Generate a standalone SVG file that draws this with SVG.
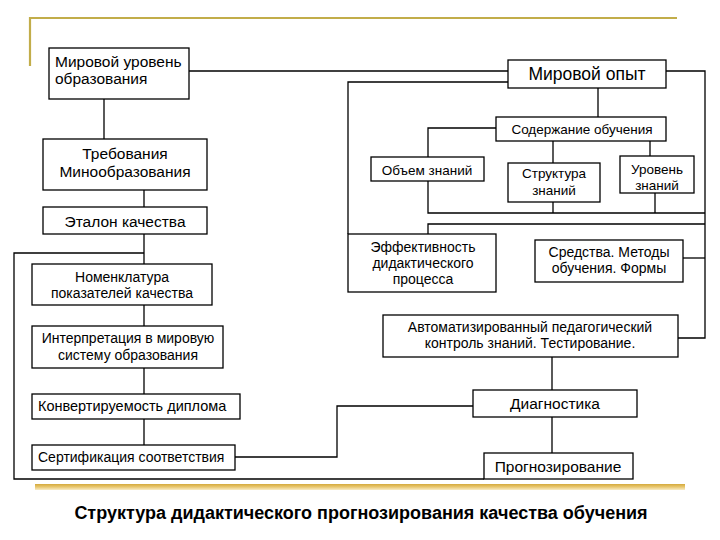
<svg xmlns="http://www.w3.org/2000/svg" width="720" height="540" viewBox="0 0 720 540">
<style>
.b{fill:#fff;stroke:#000;stroke-width:1.3}
.c{fill:none;stroke:#000;stroke-width:1.3}
text{font-family:"Liberation Sans",Arial,sans-serif;fill:#000}
.m{text-anchor:middle}
.s13{font-size:13.5px}
.s14{font-size:14px}
.s15{font-size:15.5px}
</style>
<defs>
<linearGradient id="gb" x1="0" y1="0" x2="0" y2="1">
<stop offset="0" stop-color="#d4a93c"/>
<stop offset="0.5" stop-color="#e9c870"/>
<stop offset="1" stop-color="#f8ecc8"/>
</linearGradient>
</defs>
<rect width="720" height="540" fill="#fff"/>
<g id="decor">
<path d="M30,66 V18 H677" fill="none" stroke="#c2ad4a" stroke-width="2.2"/>
<rect x="35" y="484" width="650" height="6" fill="url(#gb)"/>
</g>
<g id="connectors" class="c">
<path d="M189,71 H508"/>
<path d="M508,82 H348 V234"/>
<path d="M666,71 H705 V338 H678"/>
<path d="M683,258 H705"/>
<path d="M428,234 V224 H705"/>
<path d="M428,181 V213 H705"/>
<path d="M553,202 V213"/>
<path d="M655,193 V213"/>
<path d="M598,88 V117"/>
<path d="M496,128 H428 V157"/>
<path d="M553,141 V163"/>
<path d="M650,141 V156"/>
<path d="M104,99 V139"/>
<path d="M144,190 V207"/>
<path d="M144,234 V264"/>
<path d="M144,253 H14 V479 H484"/>
<path d="M144,305 V326"/>
<path d="M144,368 V394"/>
<path d="M144,419 V445"/>
<path d="M235,457 H337 V406 H473"/>
<path d="M552,357 V390"/>
<path d="M552,417 V453"/>
</g>
<g id="n1"><rect class="b" x="49" y="48" width="140" height="51"/>
<text class="s15" x="55" y="67">Мировой уровень</text><text class="s15" x="55" y="84">образования</text></g>
<g id="n2"><rect class="b" x="508" y="60" width="158" height="28"/>
<text class="m" style="font-size:17.5px" x="587" y="80">Мировой опыт</text></g>
<g id="n3"><rect class="b" x="496" y="117" width="170" height="24"/>
<text class="m s13" x="582" y="134">Содержание обучения</text></g>
<g id="n4"><rect class="b" x="43" y="139" width="164" height="51"/>
<text class="m s15" x="125" y="159">Требования</text><text class="m s15" x="125" y="177">Минообразования</text></g>
<g id="n5"><rect class="b" x="371" y="157" width="113" height="24"/>
<text class="m s13" x="427" y="175">Объем знаний</text></g>
<g id="n6"><rect class="b" x="508" y="163" width="92" height="39"/>
<text class="m s13" x="554" y="178">Структура</text><text class="m s13" x="554" y="195">знаний</text></g>
<g id="n7"><rect class="b" x="620" y="156" width="74" height="37"/>
<text class="m s13" x="657" y="174">Уровень</text><text class="m s13" x="657" y="190">знаний</text></g>
<g id="n8"><rect class="b" x="43" y="207" width="164" height="27"/>
<text class="m s15" x="125" y="227">Эталон качества</text></g>
<g id="n9"><rect class="b" x="32" y="264" width="180" height="41"/>
<text class="m s14" x="122" y="282">Номенклатура</text><text class="m s14" x="122" y="298">показателей качества</text></g>
<g id="n10"><rect class="b" x="32" y="326" width="191" height="42"/>
<text class="m s14" x="128" y="343">Интерпретация в мировую</text><text class="m s14" x="128" y="360">систему образования</text></g>
<g id="n11"><rect class="b" x="32" y="394" width="208" height="25"/>
<text style="font-size:14.5px" x="38" y="411">Конвертируемость диплома</text></g>
<g id="n12"><rect class="b" x="32" y="445" width="203" height="25"/>
<text class="s14" x="38" y="462">Сертификация соответствия</text></g>
<g id="n13"><rect class="b" x="348" y="234" width="148" height="58"/>
<text class="m s14" x="423" y="252">Эффективность</text><text class="m s14" x="423" y="268">дидактического</text><text class="m s14" x="423" y="284">процесса</text></g>
<g id="n14"><rect class="b" x="535" y="240" width="148" height="42"/>
<text class="m s14" x="609" y="257">Средства. Методы</text><text class="m s14" x="609" y="273">обучения. Формы</text></g>
<g id="n15"><rect class="b" x="383" y="315" width="295" height="42"/>
<text class="m s14" x="530" y="332">Автоматизированный педагогический</text><text class="m s14" x="530" y="348">контроль знаний. Тестирование.</text></g>
<g id="n16"><rect class="b" x="473" y="390" width="164" height="27"/>
<text class="m s15" x="555" y="409">Диагностика</text></g>
<g id="n17"><rect class="b" x="484" y="453" width="149" height="26"/>
<text class="m s15" x="558" y="472">Прогнозирование</text></g>
<text id="title" x="361" y="519" class="m" style="font-size:18px;font-weight:bold">Структура дидактического прогнозирования качества обучения</text>
</svg>
